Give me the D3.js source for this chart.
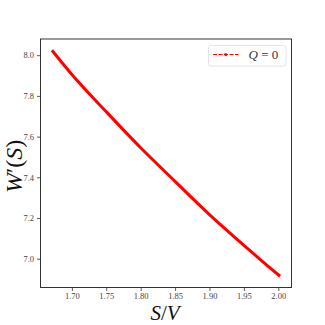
<!DOCTYPE html>
<meta charset="utf-8">
<script src="https://d3js.org/d3.v7.min.js"></script>
<style>
    body { margin: 0; background: #fff; }
    text { font-family: "Liberation Serif", "DejaVu Serif", serif; }
</style>
<div id="vis"></div>
<script>
    // data
    var sv = [1.671, 1.70, 1.75, 1.80, 1.85, 1.90, 1.95, 2.00, 2.0026];
    var wPrime = [8.024, 7.905, 7.722, 7.545, 7.38, 7.217, 7.066, 6.921, 6.914];
    var xTicks = [1.70, 1.75, 1.80, 1.85, 1.90, 1.95, 2.00];
    var yTicks = [7.0, 7.2, 7.4, 7.6, 7.8, 8.0];

    var W = 325, H = 325;
    var mgn = { top: 39, rgt: 33.5, btm: 37.5, lft: 40.5 },
        wid = W - mgn.lft - mgn.rgt,
        hgt = H - mgn.top - mgn.btm;

    var svg = d3.select("#vis").append("svg")
        .attr("width", W)
        .attr("height", H);
    var g = svg.append("g")
        .attr("transform", "translate(" + mgn.lft + "," + mgn.top + ")");

    // 5% margins like matplotlib
    var xr = d3.extent(sv), yr = d3.extent(wPrime);
    var dx = (xr[1] - xr[0]) * 0.05, dy = (yr[1] - yr[0]) * 0.05;
    var x = d3.scaleLinear().domain([xr[0] - dx, xr[1] + dx]).range([0, wid]);
    var y = d3.scaleLinear().domain([yr[0] - dy, yr[1] + dy]).range([hgt, 0]);

    var xAx = g.append("g")
        .attr("transform", "translate(0," + hgt + ")")
        .call(d3.axisBottom(x).tickValues(xTicks).tickFormat(d3.format(".2f")).tickSize(3.5).tickPadding(1.5));
    var yAx = g.append("g")
        .call(d3.axisLeft(y).tickValues(yTicks).tickFormat(d3.format(".1f")).tickSize(3.5).tickPadding(3));
    [xAx, yAx].forEach(function (a) {
        a.select(".domain").remove();
        a.selectAll("line").attr("stroke", "#333").attr("stroke-width", 0.8);
        a.selectAll("text").attr("fill", "#444").style("font-family", "'Liberation Serif', serif").style("font-size", "8.5px");
    });

    // frame
    g.append("rect")
        .attr("width", wid).attr("height", hgt)
        .attr("fill", "none").attr("stroke", "#333").attr("stroke-width", 1);

    // curve
    g.append("path")
        .datum(d3.zip(sv, wPrime))
        .attr("fill", "none")
        .attr("stroke", "#ff0000")
        .attr("stroke-width", 3)
        .attr("d", d3.line().curve(d3.curveMonotoneX)
            .x(function (d) { return x(d[0]); })
            .y(function (d) { return y(d[1]); }));

    // legend
    var lg = svg.append("g").attr("transform", "translate(208.5,45.5)");
    lg.append("rect")
        .attr("width", 77.5).attr("height", 20.5).attr("rx", 2.5)
        .attr("fill", "#fff").attr("stroke", "#ddd").attr("stroke-width", 0.8);
    lg.append("line")
        .attr("x1", 4.5).attr("x2", 30).attr("y1", 9).attr("y2", 9)
        .attr("stroke", "#ff0000").attr("stroke-width", 1.2)
        .attr("stroke-dasharray", "4,1.5");
    lg.append("circle").attr("cx", 17.2).attr("cy", 9).attr("r", 1.5).attr("fill", "#ff0000");
    var lt = lg.append("text").attr("x", 40).attr("y", 13.5)
        .style("font-size", "13px").attr("fill", "#333");
    lt.append("tspan").style("font-style", "italic").text("Q");
    lt.append("tspan").text(" = 0");

    // axis labels
    svg.append("text")
        .attr("transform", "translate(22," + (mgn.top + hgt / 2 + 3) + ") rotate(-90)")
        .attr("text-anchor", "middle")
        .style("font-size", "24px").attr("fill", "#111")
        .html("<tspan font-style='italic'>W</tspan>′(<tspan font-style='italic'>S</tspan>)");
    svg.append("text")
        .attr("x", mgn.lft + wid / 2 - 1).attr("y", 319.5)
        .attr("text-anchor", "middle")
        .style("font-size", "21px").attr("fill", "#111")
        .html("<tspan font-style='italic'>S</tspan>/<tspan font-style='italic'>V</tspan>");
</script>
